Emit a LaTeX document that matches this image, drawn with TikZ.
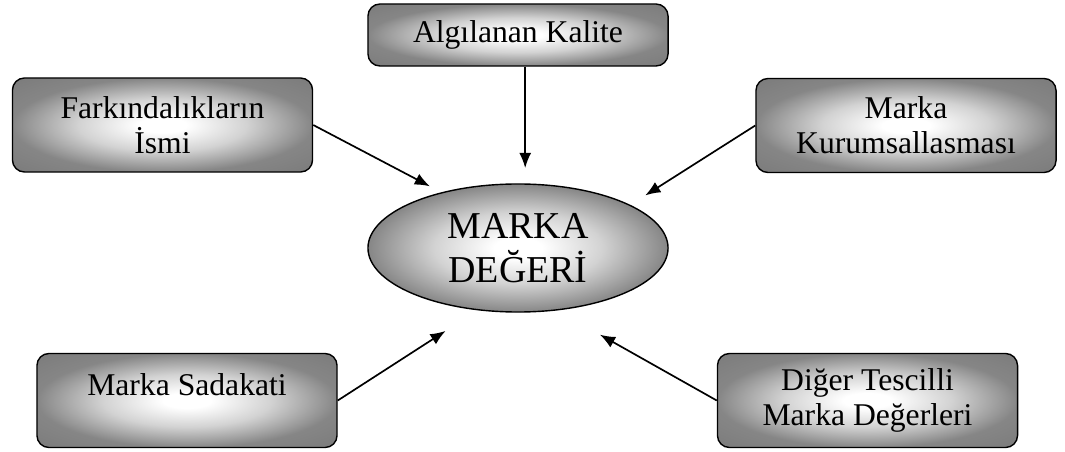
\documentclass[tikz,border=0pt]{standalone}
\usepackage{fontspec}
\setmainfont{Liberation Serif}
\usetikzlibrary{arrows.meta,shapes.geometric}

\pgfdeclareradialshading{glow}{\pgfpoint{0bp}{0bp}}{color(0bp)=(white); color(4bp)=(white); color(14bp)=(gray!35); color(25bp)=(gray!95); color(50bp)=(gray!85!black)}

\tikzset{
  box/.style={draw, line width=1pt, rounded corners=0.3cm, shading=glow,
    minimum width=7.5cm, minimum height=2.35cm, align=center,
    font=\fontsize{22.5}{25}\selectfont},
  core/.style={ellipse, draw, line width=1pt, shading=glow,
    minimum width=7.5cm, minimum height=3.2cm, inner sep=0pt, align=center,
    font=\fontsize{27}{31}\selectfont},
  conn/.style={-{Latex[length=3.8mm,width=3mm]}, line width=1.2pt}
}

\begin{document}
\begin{tikzpicture}[x=0.025cm,y=-0.025cm]
			\useasboundingbox (0,0) rectangle (1065,452);
			\node[box, minimum height=1.55cm] (quality) at (518,35) {Algılanan Kalite};
			\node[box] (awareness) at (162.5,125) {Farkındalıkların\\İsmi};
			\node[box] (institution) at (906,125.5) {Marka\\Kurumsallasması};
			\node[core] (equity) at (518,248) {MARKA\\DEĞERİ};
			\node[box, text depth=0.8cm] (loyalty) at (187,400.5) {Marka Sadakati};
			\node[box] (assets) at (867.5,400.5) {Diğer Tescilli\\Marka Değerleri};
			\draw[conn, shorten >=0.38cm] ([xshift=0.18cm]quality.south) -- ([xshift=0.18cm]equity.north);
			\draw[conn, shorten >=0.32cm] (awareness.east) -- (equity.144);
			\draw[conn, shorten >=0.44cm] (institution.west) -- (equity.21);
			\draw[conn, shorten >=0.95cm] (loyalty.east) -- (equity.237);
			\draw[conn, shorten >=1.23cm] (assets.west) -- (equity.302);
			\end{tikzpicture}
\end{document}
